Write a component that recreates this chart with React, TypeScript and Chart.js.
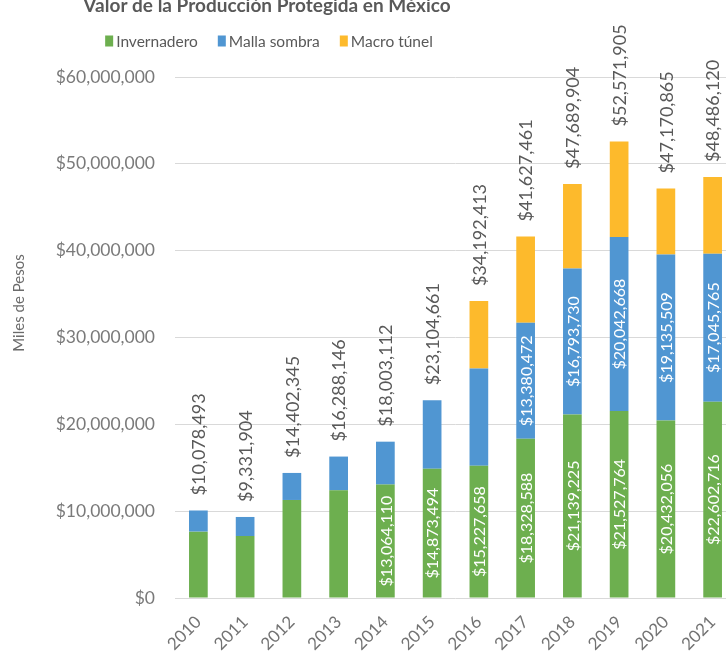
import React, { useEffect, useRef } from "react";
import { Chart, registerables } from "chart.js";

Chart.register(...registerables);

const years = ["2010", "2011", "2012", "2013", "2014", "2015", "2016", "2017", "2018", "2019", "2020", "2021"];
const invernadero = [7640000, 7140000, 11290000, 12400000, 13064110, 14873494, 15227658, 18328588, 21139225, 21527764, 20432056, 22602716];
const mallaSombra = [2438493, 2191904, 3112345, 3888146, 4939002, 7900000, 11190000, 13380472, 16793730, 20042668, 19135509, 17045765];
const macroTunel = [0, 0, 0, 0, 0, 0, 7774755, 9918401, 9756949, 11001473, 7603300, 8837639];
const totals = [10078493, 9331904, 14402345, 16288146, 18003112, 23104661, 34192413, 41627461, 47689904, 52571905, 47170865, 48486120];

const seriesNames = ["Invernadero", "Malla sombra", "Macro túnel"];
const seriesColors = ["#6DAF4F", "#5096D2", "#FDBA2C"];
const titleText = "Valor de la Producción Protegida en México";
const yTitle = "Miles de Pesos";

const FONT = "Lato, 'Noto Sans', sans-serif";
const fmt = (v: number) => "$" + Math.round(v).toLocaleString("en-US");

const overlayPlugin = {
  id: "overlay",
  afterDatasetsDraw(chart: any) {
    const ctx = chart.ctx;
    ctx.save();
    [0, 1].forEach((di) => {
      const meta = chart.getDatasetMeta(di);
      const data = chart.data.datasets[di].data as number[];
      meta.data.forEach((el: any, j: number) => {
        const v = data[j];
        if (v < 12500000) return;
        const cy = (el.y + el.base) / 2;
        ctx.save();
        ctx.translate(el.x, cy);
        ctx.rotate(-Math.PI / 2);
        ctx.font = `16px ${FONT}`;
        ctx.fillStyle = "#ffffff";
        ctx.textAlign = "center";
        ctx.textBaseline = "middle";
        ctx.fillText(fmt(v), 0, 1);
        ctx.restore();
      });
    });
    const top = chart.getDatasetMeta(2);
    top.data.forEach((el: any, j: number) => {
      ctx.save();
      ctx.translate(el.x + 1, el.y - 15);
      ctx.rotate(-Math.PI / 2);
      ctx.font = `18px ${FONT}`;
      ctx.fillStyle = "#595959";
      ctx.textAlign = "left";
      ctx.textBaseline = "middle";
      ctx.fillText(fmt(totals[j]), 0, 0);
      ctx.restore();
    });
    ctx.restore();
  },
  afterDraw(chart: any) {
    const ctx = chart.ctx;
    ctx.save();
    ctx.font = `bold 19px ${FONT}`;
    ctx.fillStyle = "#595959";
    ctx.textAlign = "center";
    ctx.textBaseline = "alphabetic";
    ctx.fillText(titleText, 267, 12);
    ctx.font = `15.5px ${FONT}`;
    const boxW = 8, boxH = 11, gap = 3, itemGap = 20;
    let total = 0;
    const widths = seriesNames.map((n) => ctx.measureText(n).width);
    widths.forEach((w, i) => {
      total += boxW + gap + w + (i < widths.length - 1 ? itemGap : 0);
    });
    let x = 269 - total / 2;
    const ly = 41;
    seriesNames.forEach((n, i) => {
      ctx.fillStyle = seriesColors[i];
      ctx.fillRect(x, ly - boxH / 2, boxW, boxH);
      x += boxW + gap;
      ctx.fillStyle = "#595959";
      ctx.textAlign = "left";
      ctx.textBaseline = "middle";
      ctx.fillText(n, x, ly + 1);
      x += widths[i] + itemGap;
    });
    ctx.save();
    ctx.translate(19, 303);
    ctx.rotate(-Math.PI / 2);
    ctx.font = `15px ${FONT}`;
    ctx.fillStyle = "#6b6b6b";
    ctx.textAlign = "center";
    ctx.textBaseline = "middle";
    ctx.fillText(yTitle, 0, 0);
    ctx.restore();
    ctx.restore();
  },
};

export default function App() {
  const ref = useRef<HTMLCanvasElement | null>(null);
  useEffect(() => {
    if (!ref.current) return;
    const chart = new Chart(ref.current, {
      type: "bar",
      data: {
        labels: years,
        datasets: [
          { label: seriesNames[0], data: invernadero, backgroundColor: seriesColors[0] },
          { label: seriesNames[1], data: mallaSombra, backgroundColor: seriesColors[1] },
          { label: seriesNames[2], data: macroTunel, backgroundColor: seriesColors[2] },
        ],
      },
      options: {
        responsive: false,
        animation: false,
        devicePixelRatio: 1,
        layout: { padding: { top: 77, right: 9, left: 0, bottom: 0 } },
        datasets: { bar: { barPercentage: 0.4, categoryPercentage: 1 } },
        plugins: {
          legend: { display: false },
          title: { display: false },
          tooltip: { enabled: false },
        },
        scales: {
          x: {
            stacked: true,
            grid: { display: false },
            border: { display: false },
            ticks: {
              color: "#737373",
              font: { family: FONT, size: 17 },
              maxRotation: 45,
              minRotation: 45,
              padding: 6,
            },
            afterFit: (s: any) => { s.height = 61; },
          },
          y: {
            stacked: true,
            min: 0,
            max: 60000000,
            grid: { color: "#d9d9d9", drawTicks: false },
            border: { display: false },
            ticks: {
              stepSize: 10000000,
              color: "#7a7a7a",
              font: { family: FONT, size: 17.5 },
              padding: 20,
              callback: (v: any) => fmt(Number(v)),
            },
            afterFit: (s: any) => { s.width = 175; },
          },
        },
      },
      plugins: [overlayPlugin],
    });
    return () => chart.destroy();
  }, []);
  return (
    <div style={{ position: "absolute", left: 0, top: 0, width: 726, height: 659, overflow: "hidden", background: "#fff" }}>
      <canvas ref={ref} width={745} height={659} style={{ display: "block" }} />
    </div>
  );
}
